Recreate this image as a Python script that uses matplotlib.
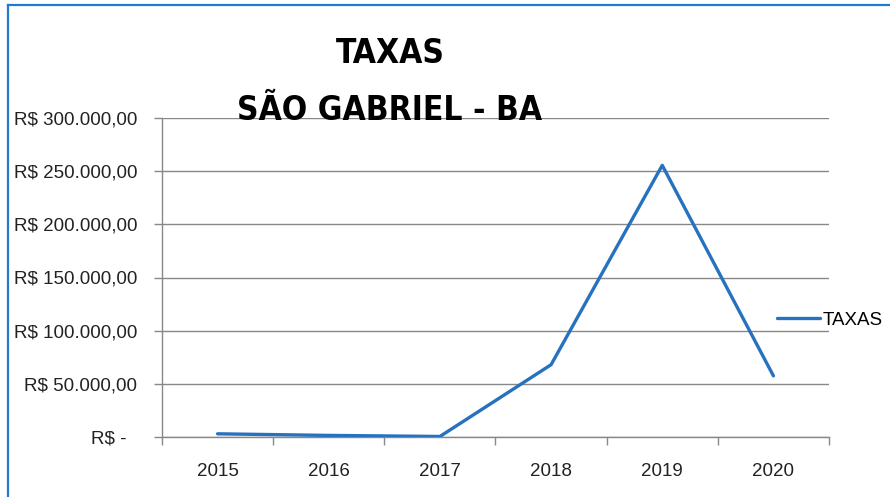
import matplotlib
matplotlib.use("Agg")
import matplotlib.pyplot as plt
from matplotlib.lines import Line2D
from matplotlib.ticker import FixedLocator

years = ["2015", "2016", "2017", "2018", "2019", "2020"]
taxas = [3000, 1500, 500, 68000, 255500, 57500]
y_ticks = [0, 50000, 100000, 150000, 200000, 250000, 300000]
y_tick_labels = ["R$ -  ", "R$ 50.000,00", "R$ 100.000,00", "R$ 150.000,00",
                 "R$ 200.000,00", "R$ 250.000,00", "R$ 300.000,00"]
series_name = "TAXAS"
title_lines = ["TAXAS", "SÃO GABRIEL - BA"]

W, H = 890, 497
fig = plt.figure(figsize=(W / 100, H / 100), dpi=100)
fam = ["Liberation Sans", "DejaVu Sans"]
plt.rcParams["font.family"] = fam

ax = fig.add_axes([162 / W, (H - 437) / H, (829 - 162) / W, (437 - 118) / H])
x = list(range(len(years)))
ax.plot(x, taxas, color="#2672BE", lw=2.4, solid_capstyle="round", label=series_name, zorder=3)
ax.set_xlim(-0.5, len(years) - 0.5)
ax.set_ylim(0, 300000)
ax.set_yticks(y_ticks)
ax.set_yticklabels(y_tick_labels, fontsize=13.5, color="#222222")
ax.set_xticks(x)
ax.set_xticklabels(years, fontsize=13.5, color="#222222")
ax.xaxis.set_minor_locator(FixedLocator([i - 0.5 for i in range(len(years) + 1)]))
ax.tick_params(axis="x", which="major", length=0, pad=19)
ax.tick_params(axis="x", which="minor", length=6, color="#888888", width=1)
ax.tick_params(axis="y", length=6, color="#888888", width=1, pad=12)
ax.grid(axis="y", color="#888888", lw=1)
ax.set_axisbelow(True)
for s in ["top", "right"]:
    ax.spines[s].set_visible(False)
for s in ["left", "bottom"]:
    ax.spines[s].set_color("#888888")
    ax.spines[s].set_linewidth(1)

leg = ax.legend(loc="center left", bbox_to_anchor=(777 / W, (H - 320) / H),
                bbox_transform=fig.transFigure, frameon=False, fontsize=13.5,
                handlelength=2.3, handletextpad=0.15, borderaxespad=0, borderpad=0)

tfam = ["DejaVu Sans", "Liberation Sans"]
fig.text(390 / W, (H - 63) / H, title_lines[0], ha="center", va="baseline",
         fontsize=24, fontweight="bold", fontstretch="condensed", family=tfam)
fig.text(390 / W, (H - 120) / H, title_lines[1], ha="center", va="baseline",
         fontsize=24, fontweight="bold", fontstretch="condensed", family=tfam)

fig.add_artist(Line2D([8 / W, 1], [1 - 5 / H, 1 - 5 / H], transform=fig.transFigure,
                      color="#1E7BD0", lw=1.6))
fig.add_artist(Line2D([8 / W, 8 / W], [0, 1 - 5 / H], transform=fig.transFigure,
                      color="#1E7BD0", lw=1.6))

fig.savefig("out.png", dpi=100)
